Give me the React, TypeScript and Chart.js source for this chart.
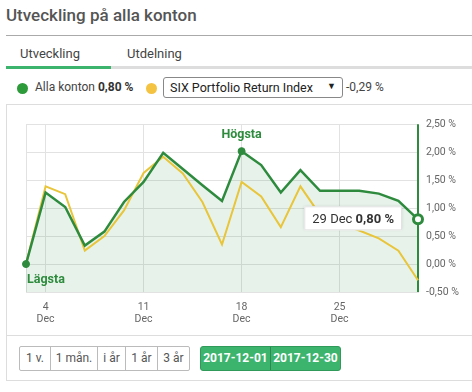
import React, { useEffect, useRef } from "react";
import { Chart, registerables } from "chart.js";

Chart.register(...registerables);

const days = [1, 4, 5, 6, 7, 8, 11, 12, 13, 14, 15, 18, 19, 20, 21, 22, 25, 26, 27, 28, 29];
const month = "Dec";
const tickDays = [4, 11, 18, 25];
const allaKonton = [0.0, 1.28, 1.02, 0.33, 0.58, 1.11, 1.47, 1.99, 1.7, 1.41, 1.13, 2.02, 1.77, 1.28, 1.68, 1.31, 1.31, 1.31, 1.26, 1.13, 0.8];
const sixIndex = [0.0, 1.39, 1.25, 0.24, 0.5, 0.96, 1.63, 1.92, 1.62, 1.11, 0.35, 1.47, 1.21, 0.66, 1.39, 0.88, 0.72, 0.6, 0.46, 0.24, -0.29];
const yMin = -0.5;
const yMax = 2.5;
const yStep = 0.5;
const periodButtons = ["1 v.", "1 mån.", "i år", "1 år", "3 år"];
const periodWidths = [30, 47, 28, 32, 32];
const dateButtons = ["2017-12-01", "2017-12-30"];
const dateWidths = [69, 70];

const GREEN = "#2e8b3e";
const YELLOW = "#e8c53a";
const FONT = "Roboto, 'Noto Sans', sans-serif";

const fmt = (v: number) => v.toFixed(2).replace(".", ",") + " %";

export default function App() {
  const canvasRef = useRef<HTMLCanvasElement | null>(null);

  useEffect(() => {
    if (!canvasRef.current) return;
    Chart.defaults.font.family = FONT;
    const maxIdx = allaKonton.indexOf(Math.max(...allaKonton));
    const minIdx = allaKonton.indexOf(Math.min(...allaKonton));
    const lastIdx = allaKonton.length - 1;

    const overlay = {
      id: "overlay",
      beforeDatasetsDraw(chart: any) {
        const { ctx, chartArea } = chart;
        const meta = chart.getDatasetMeta(0);
        const p = meta.data[lastIdx];
        ctx.save();
        ctx.strokeStyle = GREEN;
        ctx.lineWidth = 2;
        ctx.beginPath();
        ctx.moveTo(p.x, chartArea.top);
        ctx.lineTo(p.x, chartArea.bottom);
        ctx.stroke();
        ctx.restore();
      },
      afterDraw(chart: any) {
        const { ctx } = chart;
        const meta = chart.getDatasetMeta(0);
        ctx.save();
        ctx.fillStyle = GREEN;
        ctx.font = `bold 12.5px ${FONT}`;
        const hi = meta.data[maxIdx];
        ctx.textAlign = "center";
        ctx.textBaseline = "alphabetic";
        ctx.fillText("Högsta", hi.x, hi.y - 13);
        const lo = meta.data[minIdx];
        ctx.textAlign = "left";
        ctx.fillText("Lägsta", lo.x + 1, lo.y + 19);

        const p = meta.data[lastIdx];
        const part1 = `${days[lastIdx]} ${month} `;
        const part2 = fmt(allaKonton[lastIdx]);
        ctx.font = `13px ${FONT}`;
        const w1 = ctx.measureText(part1).width;
        ctx.font = `bold 13px ${FONT}`;
        const w2 = ctx.measureText(part2).width;
        const bw = w1 + w2 + 16;
        const bh = 24;
        const bx = p.x - 16 - bw;
        const by = p.y - bh / 2 - 1;
        ctx.shadowColor = "rgba(0,0,0,0.12)";
        ctx.shadowBlur = 3;
        ctx.fillStyle = "#ffffff";
        ctx.fillRect(bx, by, bw, bh);
        ctx.shadowColor = "transparent";
        ctx.strokeStyle = "#e2e2e2";
        ctx.lineWidth = 1;
        ctx.strokeRect(bx + 0.5, by + 0.5, bw - 1, bh - 1);
        ctx.fillStyle = "#333";
        ctx.textAlign = "left";
        ctx.textBaseline = "middle";
        ctx.font = `13px ${FONT}`;
        ctx.fillText(part1, bx + 8, by + bh / 2 + 1);
        ctx.font = `bold 13px ${FONT}`;
        ctx.fillText(part2, bx + 8 + w1, by + bh / 2 + 1);
        ctx.restore();
      },
    };

    const chart = new Chart(canvasRef.current, {
      type: "line",
      data: {
        labels: days.map((d) => String(d)),
        datasets: [
          {
            label: "Alla konton",
            data: allaKonton,
            borderColor: GREEN,
            borderWidth: 2.5,
            backgroundColor: "rgba(60,160,80,0.12)",
            fill: "start",
            tension: 0,
            pointRadius: (c: any) => (c.dataIndex === lastIdx ? 4.5 : c.dataIndex === maxIdx || c.dataIndex === minIdx ? 3.5 : 0),
            pointBorderWidth: (c: any) => (c.dataIndex === lastIdx ? 3 : 1),
            pointBackgroundColor: (c: any) => (c.dataIndex === lastIdx ? "#ffffff" : GREEN),
            pointBorderColor: GREEN,
          },
          {
            label: "SIX Portfolio Return Index",
            data: sixIndex,
            borderColor: YELLOW,
            borderWidth: 2,
            fill: false,
            tension: 0,
            pointRadius: 0,
          },
        ],
      },
      options: {
        animation: false,
        responsive: false,
        layout: { padding: { left: 20, top: 14, right: 0, bottom: 0 } },
        plugins: {
          legend: { display: false },
          tooltip: { enabled: false },
          filler: { drawTime: "beforeDatasetsDraw" },
        } as any,
        scales: {
          x: {
            type: "category",
            offset: false,
            grid: {
              drawTicks: false,
              color: (c: any) => {
                const d = days[c.index];
                return c.index === 0 || tickDays.includes(d) ? "#e2e2e2" : "rgba(0,0,0,0)";
              },
            },
            border: { display: true, color: "#e2e2e2" },
            ticks: {
              autoSkip: false,
              maxRotation: 0,
              padding: 10,
              color: "#666",
              font: { size: 10.5, lineHeight: 1.1 },
              callback: (_v: any, i: number) => (tickDays.includes(days[i]) ? [String(days[i]), month] : ""),
            },
            afterFit: (s: any) => {
              s.height = 40;
            },
          },
          y: {
            position: "right",
            min: yMin,
            max: yMax,
            grid: { drawTicks: false, color: "#e2e2e2" },
            border: { display: false },
            ticks: {
              stepSize: yStep,
              padding: 8,
              color: "#666",
              font: { size: 10.5 },
              callback: (v: any) => fmt(Number(v)),
            },
            afterFit: (s: any) => {
              s.width = 54;
            },
          },
        },
      } as any,
      plugins: [overlay],
    });
    return () => chart.destroy();
  }, []);

  const base: React.CSSProperties = { position: "absolute", fontFamily: FONT };

  return (
    <div style={{ position: "absolute", left: 0, top: 0, width: 472, height: 392, overflow: "hidden", background: "#fff", fontFamily: FONT }}>
      <div style={{ ...base, left: 6, top: 5, fontSize: 17, fontWeight: 500, color: "#555", whiteSpace: "nowrap" }}>Utveckling på alla konton</div>
      <div style={{ ...base, left: 6, top: 35, width: 466, height: 1, background: "#aaa" }} />

      <div style={{ ...base, left: 20, top: 46, fontSize: 13, color: "#444" }}>Utveckling</div>
      <div style={{ ...base, left: 127, top: 46, fontSize: 13, color: "#444" }}>Utdelning</div>
      <div style={{ ...base, left: 6, top: 66, width: 105, height: 3, background: "#3cb46e" }} />
      <div style={{ ...base, left: 111, top: 66, width: 361, height: 3, background: "#ddd" }} />

      <div style={{ ...base, left: 16.5, top: 82.5, width: 11, height: 11, borderRadius: "50%", background: "#2e9b3a" }} />
      <div style={{ ...base, left: 35, top: 80, fontSize: 12, color: "#444", whiteSpace: "nowrap" }}>
        Alla konton <b style={{ color: "#333" }}>0,80 %</b>
      </div>
      <div style={{ ...base, left: 145.5, top: 82.5, width: 11, height: 11, borderRadius: "50%", background: "#f4c342" }} />
      <div style={{ ...base, left: 163, top: 76.5, width: 178, height: 19, border: "1px solid #888", borderRadius: 3, boxSizing: "content-box" }}>
        <div style={{ position: "absolute", left: 6, top: 2, fontSize: 12.5, color: "#222", whiteSpace: "nowrap" }}>SIX Portfolio Return Index</div>
        <div style={{ position: "absolute", left: 163, top: 3, fontSize: 9, color: "#222" }}>▼</div>
      </div>
      <div style={{ ...base, left: 346, top: 80, fontSize: 12, color: "#444", whiteSpace: "nowrap" }}>-0,29 %</div>
      <div style={{ ...base, left: 6, top: 104, width: 466, height: 1, background: "#ddd" }} />

      <div style={{ ...base, left: 6, top: 104, width: 1, height: 277, background: "#ddd" }} />
      <div style={{ ...base, left: 6, top: 110, width: 466, height: 222 }}>
        <canvas ref={canvasRef} width={466} height={222} style={{ width: 466, height: 222, display: "block" }} />
      </div>
      <div style={{ ...base, left: 6, top: 335, width: 466, height: 1, background: "#ddd" }} />
      <div style={{ ...base, left: 6, top: 380, width: 466, height: 1, background: "#ddd" }} />

      <div style={{ ...base, left: 19, top: 346, height: 23, display: "flex", border: "1px solid #bbb", borderRadius: 2 }}>
        {periodButtons.map((t, i) => (
          <div
            key={t}
            style={{
              width: periodWidths[i] - (i === 0 ? 0 : 1),
              textAlign: "center",
              lineHeight: "23px",
              fontSize: 12,
              color: "#555",
              borderLeft: i === 0 ? "none" : "1px solid #bbb",
              whiteSpace: "nowrap",
            }}
          >
            {t}
          </div>
        ))}
      </div>
      <div style={{ ...base, left: 200, top: 346, height: 23, display: "flex", border: "1px solid #2f9a5a", borderRadius: 3, background: "#3cb46e" }}>
        {dateButtons.map((t, i) => (
          <div
            key={t}
            style={{
              width: dateWidths[i] - (i === 0 ? 0 : 1),
              textAlign: "center",
              lineHeight: "23px",
              fontSize: 12,
              fontWeight: 700,
              color: "#fff",
              borderLeft: i === 0 ? "none" : "1px solid #2a8a50",
              whiteSpace: "nowrap",
            }}
          >
            {t}
          </div>
        ))}
      </div>
    </div>
  );
}
